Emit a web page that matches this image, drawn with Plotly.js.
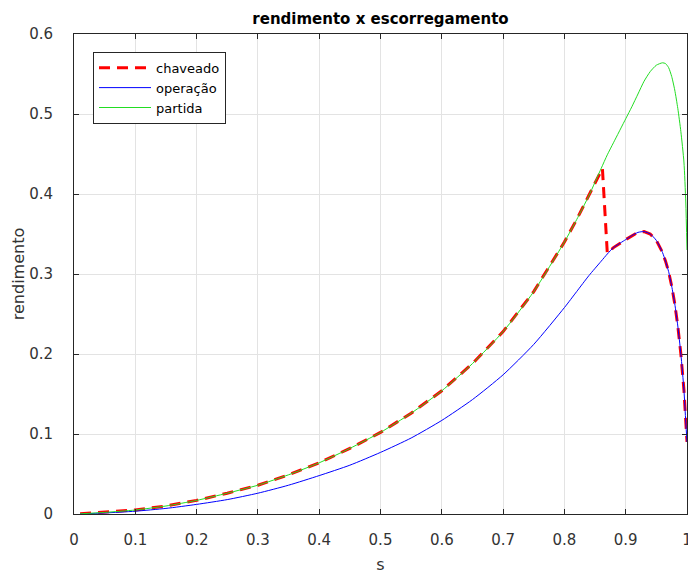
<!DOCTYPE html>
<html>
<head>
<meta charset="utf-8">
<script src="https://cdn.plot.ly/plotly-3.0.1.min.js"></script>
<style>html,body{margin:0;padding:0;background:#fff;}#chart{width:688px;height:577px;}</style>
</head>
<body>
<div id="chart"></div>
<script>
// slip values (s)
const s = [0.01, 0.05, 0.1, 0.15, 0.2, 0.25, 0.3, 0.35, 0.4, 0.45, 0.5, 0.55, 0.6, 0.65, 0.7, 0.75, 0.8, 0.82, 0.84, 0.86, 0.87, 0.88, 0.9, 0.91, 0.92, 0.93, 0.94, 0.95, 0.96, 0.965, 0.97, 0.975, 0.98, 0.985, 0.99, 0.995, 0.998, 1.0];
// partida (green)
const partida = [0.0002, 0.002, 0.005, 0.010, 0.017, 0.026, 0.036, 0.049, 0.064, 0.082, 0.102, 0.126, 0.154, 0.188, 0.228, 0.278, 0.34, 0.368, 0.398, 0.432, 0.449, 0.464, 0.494, 0.509, 0.525, 0.541, 0.553, 0.561, 0.564, 0.563, 0.558, 0.547, 0.53, 0.507, 0.478, 0.44, 0.39, 0.33];
// operação (blue)
const operacao = [0.0001, 0.0013, 0.0035, 0.007, 0.012, 0.018, 0.026, 0.036, 0.048, 0.061, 0.077, 0.095, 0.117, 0.143, 0.174, 0.212, 0.258, 0.278, 0.298, 0.316, 0.325, 0.333, 0.343, 0.348, 0.352, 0.353, 0.35, 0.342, 0.327, 0.316, 0.303, 0.285, 0.263, 0.235, 0.20, 0.155, 0.115, 0.09];
// chaveado (red dashed): partida up to the switch, then operação
const sChaveado = [0.01, 0.05, 0.1, 0.15, 0.2, 0.25, 0.3, 0.35, 0.4, 0.45, 0.5, 0.55, 0.6, 0.65, 0.7, 0.75, 0.8, 0.82, 0.84, 0.862, 0.870, 0.88, 0.9, 0.91, 0.92, 0.93, 0.94, 0.95, 0.96, 0.965, 0.97, 0.975, 0.98, 0.985, 0.99, 0.995, 0.998, 1.0];
const chaveado = [0.0002, 0.002, 0.005, 0.010, 0.017, 0.026, 0.036, 0.049, 0.064, 0.082, 0.102, 0.126, 0.154, 0.188, 0.228, 0.278, 0.34, 0.368, 0.398, 0.432, 0.326, 0.333, 0.343, 0.348, 0.352, 0.353, 0.35, 0.342, 0.327, 0.316, 0.303, 0.285, 0.263, 0.235, 0.20, 0.155, 0.115, 0.09];
// ticks
const xTicks = [0, 0.1, 0.2, 0.3, 0.4, 0.5, 0.6, 0.7, 0.8, 0.9, 1];
const xTickText = ['0', '0.1', '0.2', '0.3', '0.4', '0.5', '0.6', '0.7', '0.8', '0.9', '1'];
const yTicks = [0, 0.1, 0.2, 0.3, 0.4, 0.5, 0.6];
const yTickText = ['0', '0.1', '0.2', '0.3', '0.4', '0.5', '0.6'];

const font = 'DejaVu Sans, sans-serif';
const traces = [
  {x: sChaveado, y: chaveado, name: 'chaveado', mode: 'lines', line: {color: '#ff0000', width: 3, dash: '11px,7px'}},
  {x: s, y: operacao, name: 'operação', mode: 'lines', line: {color: '#0000ff', width: 1, shape: 'spline', smoothing: 0.6}},
  {x: s, y: partida, name: 'partida', mode: 'lines', line: {color: '#22dd22', width: 1, shape: 'spline', smoothing: 0.6}}
];
const axisCommon = {
  showline: true, linecolor: '#262626', linewidth: 1, mirror: 'ticks',
  ticks: 'inside', ticklen: 5, tickcolor: '#262626',
  showgrid: true, gridcolor: '#e3e3e3', gridwidth: 1, zeroline: false,
  tickfont: {family: font, size: 15, color: '#333'}, ticklabeloverflow: 'allow'
};
const layout = {
  width: 688, height: 577,
  margin: {l: 74, r: 1, t: 34, b: 63},
  paper_bgcolor: '#fff', plot_bgcolor: '#fff',
  title: {text: '<b>rendimento x escorregamento</b>', font: {family: font, size: 15, color: '#000'}, x: 0.5, xref: 'paper', y: 0.968, yanchor: 'middle'},
  xaxis: Object.assign({}, axisCommon, {range: [0, 1], tickmode: 'array', tickvals: xTicks, ticktext: xTickText, ticklabelstandoff: 12,
    title: {text: 's', font: {family: font, size: 16, color: '#333'}, standoff: 10}}),
  yaxis: Object.assign({}, axisCommon, {range: [0, 0.6], tickmode: 'array', tickvals: yTicks, ticktext: yTickText, ticklabelstandoff: 17,
    automargin: true, title: {text: 'rendimento', font: {family: font, size: 16, color: '#333'}, standoff: 0}}),
  showlegend: true,
  legend: {x: 0.031, y: 0.963, xanchor: 'left', yanchor: 'top', bgcolor: '#fff', bordercolor: '#262626', borderwidth: 1,
    font: {family: font, size: 13, color: '#000'}, itemwidth: 52, tracegroupgap: 0}
};
Plotly.newPlot('chart', traces, layout, {displayModeBar: false, staticPlot: true});
</script>
</body>
</html>
